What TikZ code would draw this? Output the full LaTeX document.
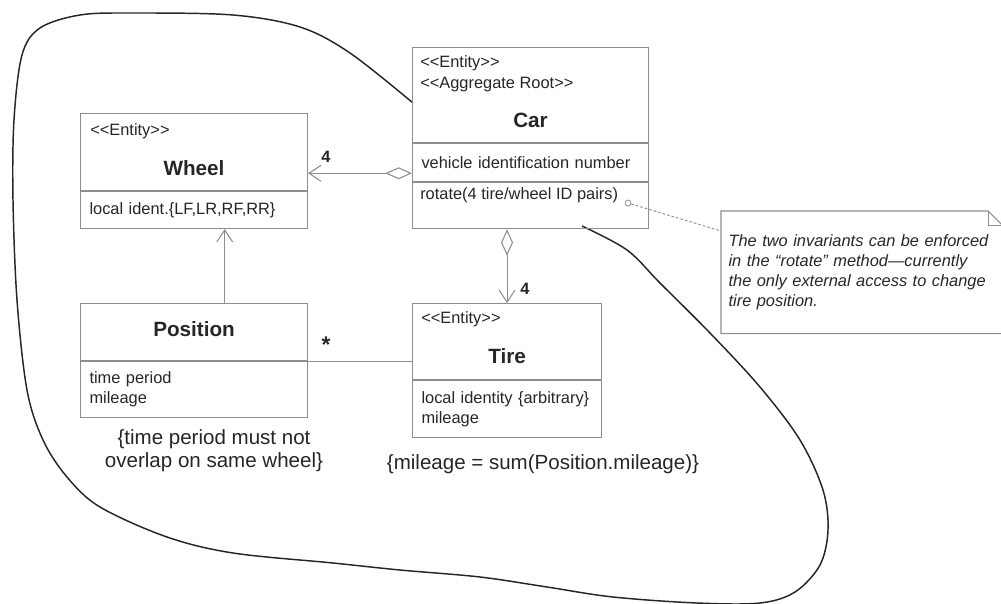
\documentclass[tikz,border=0pt]{standalone}
\usepackage{fontspec}
\setmainfont{Liberation Sans}
\usepackage{tikz}
\usetikzlibrary{arrows,arrows.meta,positioning}

\definecolor{boxline}{HTML}{8E8E8E}
\definecolor{inkgray}{HTML}{262626}
\newcommand{\smalltxt}{\fontsize{12.3}{15}\selectfont}
\newcommand{\titletxt}{\fontsize{15.5}{18}\selectfont\bfseries}
\newcommand{\constxt}{\fontsize{15.4}{17.2}\selectfont}

\begin{document}
\begin{tikzpicture}[x=0.75pt,y=-0.75pt]
      \tikzstyle{every node} = [text=inkgray, inner sep=0pt]
      \tikzstyle{part} = [draw=boxline, line width=0.8pt, anchor=north west,
        inner xsep=6.75pt, inner ysep=0pt, align=left, font=\smalltxt]
      \tikzstyle{link} = [draw=boxline, line width=0.8pt]
      \tikzstyle{openhead} = [-{Straight Barb[length=9pt,width=12pt]}]
      \tikzstyle{aggr} = [{Diamond[open,length=20pt,width=9pt,fill=white]}-{Straight Barb[length=9pt,width=12pt]}]
      \tikzstyle{mult} = [font=\fontsize{12.3}{14}\selectfont\bfseries]
      \useasboundingbox (0,0) rectangle (1001,604);

      % aggregate boundary
      \draw[inkgray, line width=1.1pt] plot[smooth, tension=0.55] coordinates {
        (582,226) (627,250) (660,283) (710,333) (760,387) (800,440)
        (823,490) (828,530) (820,565) (795,592) (760,603) (697,603)
        (613,597) (547,587) (480,577) (400,570) (333,563) (233,553)
        (167,537) (100,507) (67,477) (43,440) (27,390) (17,300)
        (13,200) (14,120) (22,55) (40,28) (80,15) (133,13) (233,15)
        (300,27) (350,53) (413,103)};

      % Car
      \node[part, text width=163.5pt, minimum height=71.25pt] (carhead) at (412,47) {};
      \node[part, text width=163.5pt, minimum height=28.5pt, below=0pt of carhead] (carattr) {vehicle identification number};
      \node[part, text width=163.5pt, minimum height=34.5pt, below=0pt of carattr] (carops) {};
      \node[font=\smalltxt, anchor=base west] (carst) at ([shift={(8,20)}]carhead.north west) {<{}<Entity>{}>};
      \node[font=\smalltxt, anchor=base west] (carroot) at ([shift={(8,41)}]carhead.north west) {<{}<Aggregate Root>{}>};
      \node[font=\titletxt, anchor=base] (carname) at ([shift={(0,80)}]carhead.north) {Car};
      \node[font=\smalltxt, anchor=base west] (carop) at ([shift={(8,17)}]carops.north west) {rotate(4 tire/wheel ID pairs)};

      % Wheel
      \node[part, text width=156.75pt, minimum height=57.75pt] (wheelhead) at (80,113) {};
      \node[part, text width=156.75pt, minimum height=27.75pt, below=0pt of wheelhead] (wheelattr) {local ident.\{LF,LR,RF,RR\}};
      \node[font=\smalltxt, anchor=base west] (wheelst) at ([shift={(10,22)}]wheelhead.north west) {<{}<Entity>{}>};
      \node[font=\titletxt, anchor=base] (wheelname) at ([shift={(0,62)}]wheelhead.north) {Wheel};

      % Position
      \node[part, text width=156.75pt, minimum height=42.75pt] (poshead) at (80,303) {};
      \node[part, text width=156.75pt, minimum height=42pt, below=0pt of poshead] (posattr) {time period\\mileage};
      \node[font=\titletxt, anchor=base] (posname) at ([shift={(0,33)}]poshead.north) {Position};

      % Tire
      \node[part, text width=128.25pt, minimum height=57pt] (tirehead) at (412,303) {};
      \node[part, text width=128.25pt, minimum height=42.75pt, below=0pt of tirehead] (tireattr) {local identity \{arbitrary\}\\mileage};
      \node[font=\smalltxt, anchor=base west] (tirest) at ([shift={(9,20)}]tirehead.north west) {<{}<Entity>{}>};
      \node[font=\titletxt, anchor=base] (tirename) at ([shift={(0,60)}]tirehead.north) {Tire};

      % associations
      \path[link, aggr] ([yshift=-8pt]carattr.west) -- ([yshift=-8pt]carattr.west -| wheelhead.east);
      \path[link, aggr] (tirehead.north |- carops.south) -- (tirehead.north);
      \path[link, openhead] ([xshift=23pt]poshead.north) -- ([xshift=23pt]poshead.north |- wheelattr.south);
      \path[link] (poshead.south east) -- (poshead.south east -| tirehead.west);
      \node[mult] (wheelmult) at (326,157) {4};
      \node[mult] (tiremult) at (525,289) {4};
      \node[font=\fontsize{17}{18}\selectfont\bfseries] (posmult) at (326,345) {*};

      % constraints
      \node[font=\constxt, align=center] (posrule) at (214,451) {\{time period must not\\overlap on same wheel\}};
      \node[font=\constxt] (tirerule) at (543,464) {\{mileage = sum(Position.mileage)\}};

      % note
      \node[font=\smalltxt\itshape, anchor=north west, text width=200pt, inner xsep=5.5pt,
        minimum height=91.5pt, align=left] (note) at (721,211)
        {The two invariants can be enforced\\in the “rotate” method—currently\\the only external access to change\\tire position.};
      \draw[boxline, line width=0.8pt] (note.north west) -- ([xshift=-11pt]note.north east)
        -- ([yshift=-11pt]note.north east) -- (note.south east) -- (note.south west) -- cycle;
      \draw[boxline, line width=0.8pt] ([xshift=-11pt]note.north east) |- ([yshift=-11pt]note.north east);
      \node[circle, draw=boxline, line width=0.6pt, minimum size=4.5pt] (noteport) at (628,203) {};
      \draw[boxline, line width=0.7pt, dashed, dash pattern=on 2pt off 1.5pt] (noteport) -- ([yshift=-15pt]note.north west);
\end{tikzpicture}
\end{document}
